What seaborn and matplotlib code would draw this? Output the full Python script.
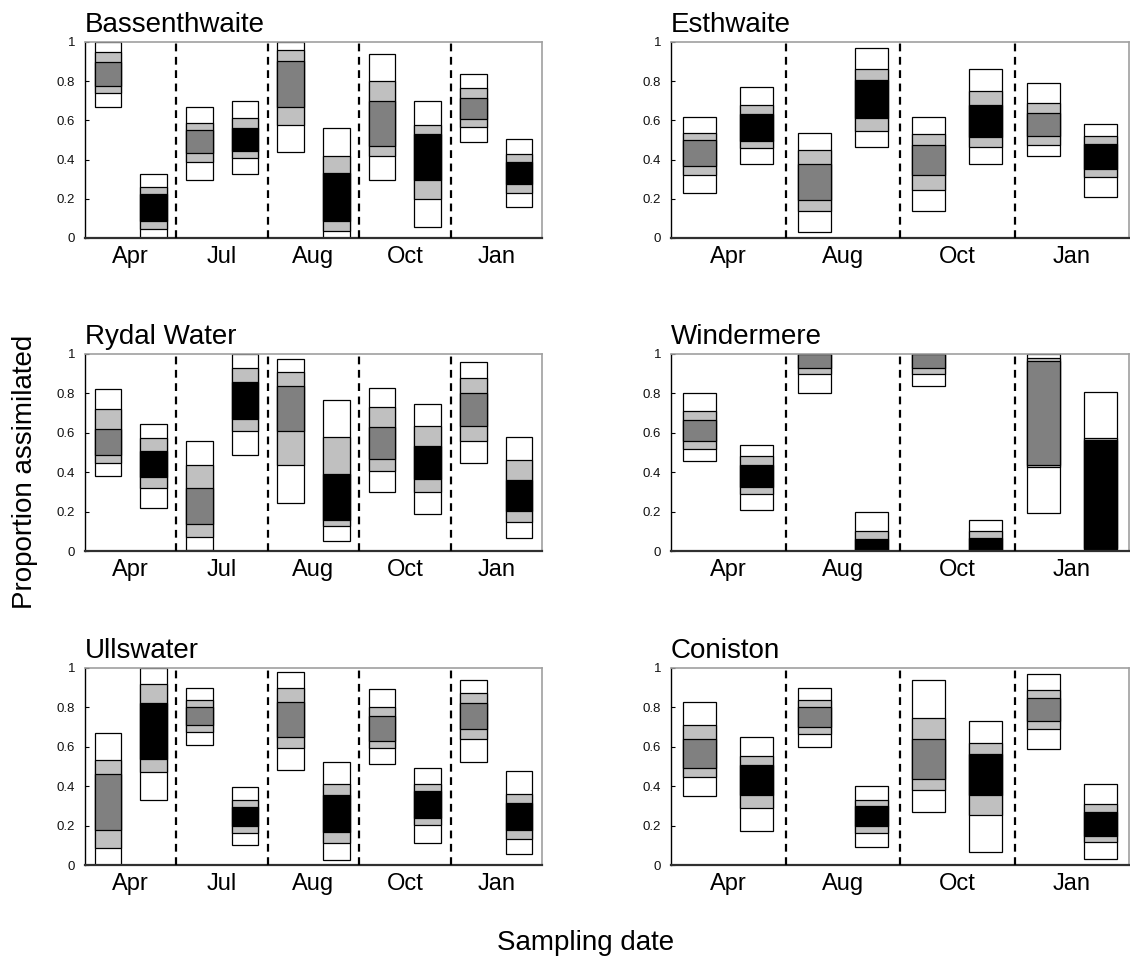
import matplotlib
matplotlib.use("Agg")
import matplotlib.pyplot as plt
import seaborn as sns

sns.set_theme(style="white")
plt.rcParams['font.family'] = ['Liberation Sans', 'DejaVu Sans']
plt.rcParams['text.color'] = 'black'
plt.rcParams['axes.labelcolor'] = 'black'
plt.rcParams['xtick.color'] = 'black'
plt.rcParams['ytick.color'] = 'black'

# Each entry: [lo95, lo75, lo50, hi50, hi75, hi95]
BASS_MONTHS = ["Apr", "Jul", "Aug", "Oct", "Jan"]
BASS_GRAY = [[0.670, 0.740, 0.777, 0.896, 0.949, 1.000],
             [0.298, 0.388, 0.435, 0.549, 0.588, 0.668],
             [0.437, 0.577, 0.668, 0.903, 0.961, 1.000],
             [0.298, 0.420, 0.469, 0.697, 0.801, 0.940],
             [0.490, 0.566, 0.609, 0.716, 0.765, 0.838]]
BASS_BLACK = [[0.000, 0.046, 0.088, 0.223, 0.259, 0.328],
              [0.328, 0.410, 0.444, 0.563, 0.611, 0.697],
              [0.000, 0.037, 0.088, 0.330, 0.420, 0.563],
              [0.058, 0.199, 0.298, 0.531, 0.577, 0.697],
              [0.160, 0.231, 0.277, 0.388, 0.430, 0.507]]

EST_MONTHS = ["Apr", "Aug", "Oct", "Jan"]
EST_GRAY = [[0.230, 0.323, 0.369, 0.498, 0.537, 0.619],
            [0.031, 0.136, 0.196, 0.379, 0.449, 0.537],
            [0.138, 0.245, 0.321, 0.476, 0.531, 0.619],
            [0.418, 0.476, 0.519, 0.638, 0.689, 0.793]]
EST_BLACK = [[0.379, 0.461, 0.495, 0.631, 0.679, 0.769],
             [0.463, 0.548, 0.614, 0.804, 0.861, 0.969],
             [0.379, 0.466, 0.517, 0.677, 0.748, 0.861],
             [0.207, 0.310, 0.354, 0.478, 0.520, 0.580]]

RYD_MONTHS = ["Apr", "Jul", "Aug", "Oct", "Jan"]
RYD_GRAY = [[0.381, 0.449, 0.488, 0.617, 0.719, 0.820],
            [0.005, 0.071, 0.139, 0.320, 0.439, 0.556],
            [0.246, 0.439, 0.607, 0.836, 0.907, 0.976],
            [0.298, 0.407, 0.466, 0.627, 0.729, 0.825],
            [0.449, 0.556, 0.636, 0.800, 0.880, 0.961]]
RYD_BLACK = [[0.219, 0.320, 0.376, 0.510, 0.576, 0.647],
             [0.486, 0.607, 0.671, 0.859, 0.927, 1.000],
             [0.053, 0.127, 0.156, 0.392, 0.578, 0.768],
             [0.186, 0.298, 0.364, 0.532, 0.636, 0.744],
             [0.068, 0.149, 0.203, 0.358, 0.464, 0.578]]

WIN_MONTHS = ["Apr", "Aug", "Oct", "Jan"]
WIN_GRAY = [[0.459, 0.519, 0.560, 0.667, 0.711, 0.800],
            [0.802, 0.898, 0.929, 1.000, 1.000, 1.000],
            [0.838, 0.898, 0.929, 1.000, 1.000, 1.000],
            [0.191, 0.428, 0.438, 0.966, 0.978, 1.000]]
WIN_BLACK = [[0.208, 0.288, 0.327, 0.438, 0.481, 0.538],
             [0.000, 0.000, 0.000, 0.063, 0.100, 0.196],
             [0.000, 0.000, 0.000, 0.068, 0.100, 0.157],
             [0.000, 0.012, 0.015, 0.563, 0.574, 0.807]]

ULL_MONTHS = ["Apr", "Jul", "Aug", "Oct", "Jan"]
ULL_GRAY = [[0.000, 0.086, 0.179, 0.463, 0.532, 0.672],
            [0.608, 0.674, 0.711, 0.801, 0.840, 0.899],
            [0.480, 0.593, 0.650, 0.828, 0.899, 0.978],
            [0.512, 0.593, 0.630, 0.758, 0.802, 0.892],
            [0.524, 0.640, 0.688, 0.823, 0.873, 0.941]]
ULL_BLACK = [[0.329, 0.470, 0.537, 0.824, 0.919, 1.000],
             [0.100, 0.164, 0.198, 0.296, 0.331, 0.394],
             [0.024, 0.110, 0.169, 0.353, 0.409, 0.522],
             [0.111, 0.201, 0.240, 0.375, 0.409, 0.490],
             [0.057, 0.130, 0.176, 0.314, 0.360, 0.478]]

CON_MONTHS = ["Apr", "Aug", "Oct", "Jan"]
CON_GRAY = [[0.348, 0.449, 0.493, 0.640, 0.711, 0.829],
            [0.600, 0.667, 0.701, 0.802, 0.838, 0.899],
            [0.267, 0.380, 0.439, 0.640, 0.748, 0.941],
            [0.590, 0.691, 0.731, 0.850, 0.889, 0.968]]
CON_BLACK = [[0.172, 0.289, 0.356, 0.508, 0.551, 0.652],
             [0.091, 0.160, 0.196, 0.302, 0.331, 0.402],
             [0.066, 0.253, 0.355, 0.563, 0.620, 0.733],
             [0.032, 0.115, 0.147, 0.269, 0.311, 0.410]]

PANELS = [
    ("Bassenthwaite", BASS_MONTHS, BASS_GRAY, BASS_BLACK, (85, 42, 542, 238)),
    ("Esthwaite", EST_MONTHS, EST_GRAY, EST_BLACK, (671, 42, 1129, 238)),
    ("Rydal Water", RYD_MONTHS, RYD_GRAY, RYD_BLACK, (85, 354, 542, 551)),
    ("Windermere", WIN_MONTHS, WIN_GRAY, WIN_BLACK, (671, 354, 1129, 551)),
    ("Ullswater", ULL_MONTHS, ULL_GRAY, ULL_BLACK, (85, 668, 542, 865)),
    ("Coniston", CON_MONTHS, CON_GRAY, CON_BLACK, (671, 668, 1129, 865)),
]

W, H = 1130, 960
fig = plt.figure(figsize=(W / 100, H / 100), dpi=100)

DARK = "#808080"
LIGHT = "#c0c0c0"
BW = 0.29


def draw_box(ax, x, q, core):
    lo95, lo75, lo50, hi50, hi75, hi95 = q
    kw = dict(width=BW, edgecolor="black", linewidth=0.9, align="center")
    ax.bar([x], [hi95 - lo95], bottom=[lo95], color="white", **kw)
    ax.bar([x], [hi75 - lo75], bottom=[lo75], color=LIGHT, **kw)
    ax.bar([x], [hi50 - lo50], bottom=[lo50], color=core, **kw)


for title, months, gray, black, (x0, y0, x1, y1) in PANELS:
    ax = fig.add_axes([x0 / W, 1 - y1 / H, (x1 - x0) / W, (y1 - y0) / H])
    n = len(months)
    for i in range(n):
        draw_box(ax, i + 0.25, gray[i], DARK)
        draw_box(ax, i + 0.75, black[i], "black")
    for i in range(1, n):
        ax.axvline(i, color="black", linestyle=(0, (3.5, 2.5)), linewidth=1.6, zorder=3)
    ax.set_xlim(0, n)
    ax.set_ylim(0, 1)
    ax.set_xticks([i + 0.5 for i in range(n)])
    ax.set_xticklabels(months, fontsize=17, color="black")
    ax.set_yticks([0, 0.2, 0.4, 0.6, 0.8, 1.0])
    ax.set_yticklabels(["0", "0.2", "0.4", "0.6", "0.8", "1"], fontsize=9.5, color="#111111")
    ax.tick_params(axis="x", length=0, pad=6)
    ax.tick_params(axis="y", direction="in", length=3, width=0.8, pad=7, left=True)
    for side in ("top", "right"):
        ax.spines[side].set_color("#a0a0a0")
        ax.spines[side].set_linewidth(1.2)
    ax.spines["left"].set_color("black")
    ax.spines["left"].set_linewidth(1.0)
    ax.spines["bottom"].set_color("#303030")
    ax.spines["bottom"].set_linewidth(1.6)
    ax.set_title(title, loc="left", fontsize=20, pad=7, color="black")
    ax.grid(False)

fig.text(25 / W, 1 - 472 / H, "Proportion assimilated", rotation=90,
         ha="center", va="center", fontsize=20, color="black")
fig.text(586 / W, 1 - 943 / H, "Sampling date", ha="center", va="center",
         fontsize=20, color="black")

fig.savefig("out.png", dpi=100, facecolor="white")
